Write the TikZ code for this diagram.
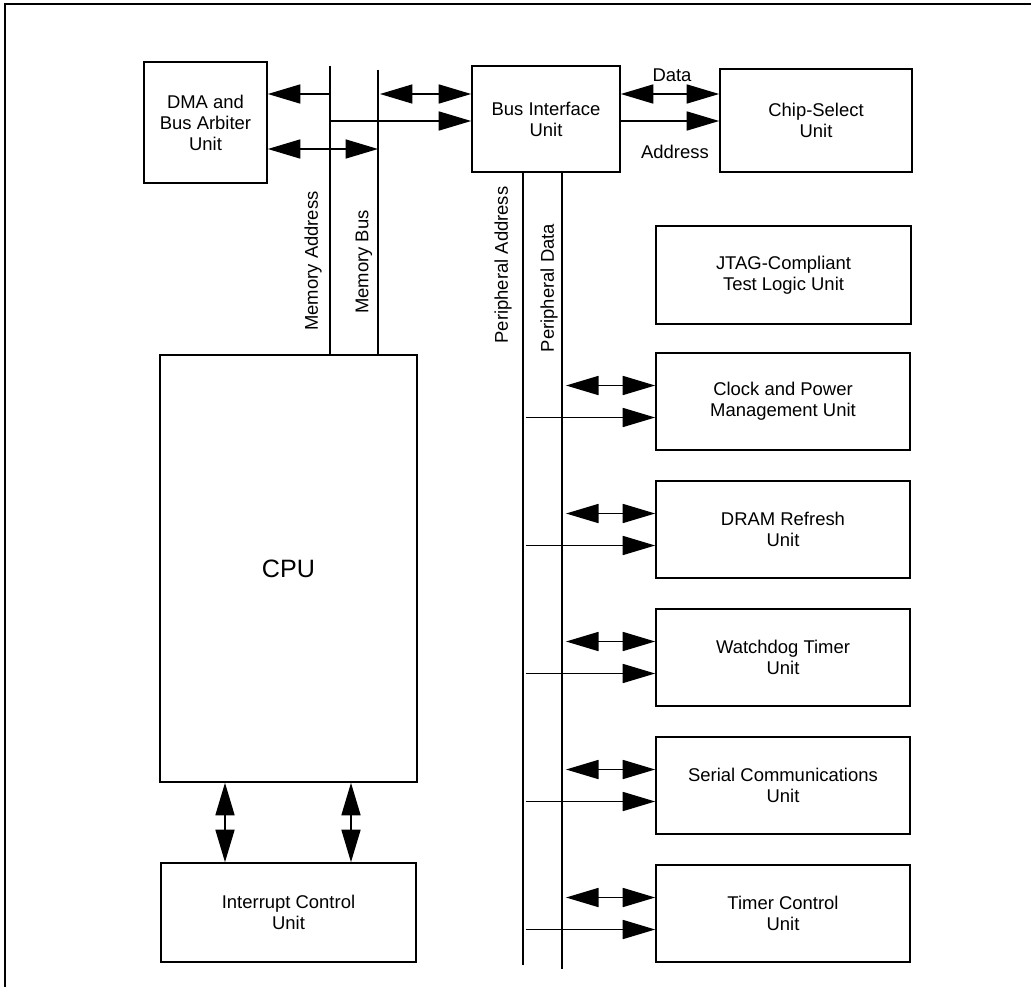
\documentclass[tikz,border=0pt]{standalone}
\usepackage{fontspec}
\setmainfont{Liberation Sans}
\usetikzlibrary{arrows.meta,calc}

\begin{document}
\begin{tikzpicture}[x=0.02cm,y=-0.02cm,
    unit/.style={draw,line width=0.95pt,align=center,inner sep=2pt,font=\fontsize{10.5}{12}\selectfont},
    perunit/.style={unit,minimum width=5.08cm,minimum height=1.94cm},
    bus/.style={line width=0.95pt},
    sgl/.style={line width=0.95pt,-{Triangle[length=0.65cm,width=0.38cm]}},
    dbl/.style={line width=0.95pt,{Triangle[length=0.65cm,width=0.38cm]}-{Triangle[length=0.65cm,width=0.38cm]}},
    lbl/.style={inner sep=0pt,font=\fontsize{10.5}{12}\selectfont}]
    \useasboundingbox (0,0) rectangle (1031,987);

    % Draw the frame
    \draw[line width=0.8pt] (1031,4) -- (5,4) -- (5,987);

    % Draw the units
    \node[unit,minimum width=2.46cm,minimum height=2.42cm] (dma) at (205.5,122.5) {DMA and\\Bus Arbiter\\Unit};
    \node[unit,minimum width=2.96cm,minimum height=2.12cm] (biu) at (546,119) {Bus Interface\\Unit};
    \node[unit,minimum width=3.84cm,minimum height=2.06cm] (cs) at (816,120.5) {Chip-Select\\Unit};
    \node[unit,minimum width=5.10cm,minimum height=1.96cm] (jtag) at (783.5,275) {JTAG-Compliant\\Test Logic Unit};
    \node[perunit] (clk) at (783,401.5) {Clock and Power\\Management Unit};
    \node[perunit] (dram) at (783,529.5) {DRAM Refresh\\Unit};
    \node[perunit] (wdt) at (783,657.5) {Watchdog Timer\\Unit};
    \node[perunit] (sci) at (783,785.5) {Serial Communications\\Unit};
    \node[perunit] (tmr) at (783,913.5) {Timer Control\\Unit};
    \node[unit,minimum width=5.14cm,minimum height=8.54cm,font=\fontsize{14.3}{17}\selectfont] (cpu) at (288.5,568.5) {CPU};
    \node[unit,minimum width=5.10cm,minimum height=1.98cm] (icu) at (288.5,912.5) {Interrupt Control\\Unit};

    % Draw the buses
    \coordinate (ma) at (330,66);
    \coordinate (mb) at (378,70);
    \coordinate (pa) at (523,965);
    \coordinate (pd) at (562,969);
    \draw[bus] (ma) -- (ma |- cpu.north);
    \draw[bus] (mb) -- (mb |- cpu.north);
    \draw[bus] (pa |- biu.south) -- (pa);
    \draw[bus] (pd |- biu.south) -- (pd);

    % Bus labels
    \node[lbl,rotate=90] (ma label) at (313,261) {Memory Address};
    \node[lbl,rotate=90] (mb label) at (364,262) {Memory Bus};
    \node[lbl,rotate=90] (pa label) at (503,265) {Peripheral Address};
    \node[lbl,rotate=90] (pd label) at (549,288) {Peripheral Data};

    % Arrows at the top
    \coordinate (r1) at (0,94);
    \coordinate (r2) at (0,121);
    \coordinate (r3) at (0,149);
    \draw[sgl] (ma |- r1) -- (dma.east |- r1);
    \draw[sgl] (ma |- r2) -- (biu.west |- r2);
    \draw[dbl] (dma.east |- r3) -- (mb |- r3);
    \draw[dbl] ($(mb |- r1)+(2,0)$) -- (biu.west |- r1);
    \draw[dbl] (biu.east |- r1) -- (cs.west |- r1);
    \draw[sgl] (biu.east |- r2) -- (cs.west |- r2);
    \node[lbl] (data) at (672,75) {Data};
    \node[lbl] (addr) at (675,152) {Address};

    % Arrows between CPU and interrupt unit
    \coordinate (c1) at (225,0);
    \coordinate (c2) at (351,0);
    \draw[dbl] (cpu.south -| c1) -- (icu.north -| c1);
    \draw[dbl] (cpu.south -| c2) -- (icu.north -| c2);

    % Arrows to the peripheral units
    \foreach \u in {clk,dram,wdt,sci,tmr}{
        \draw[dbl] ($(pd |- \u.west)+(4,-16)$) -- ($(\u.west)+(0,-16)$);
        \draw[sgl] ($(pa |- \u.west)+(3,16)$) -- ($(\u.west)+(0,16)$);
    }
\end{tikzpicture}
\end{document}
